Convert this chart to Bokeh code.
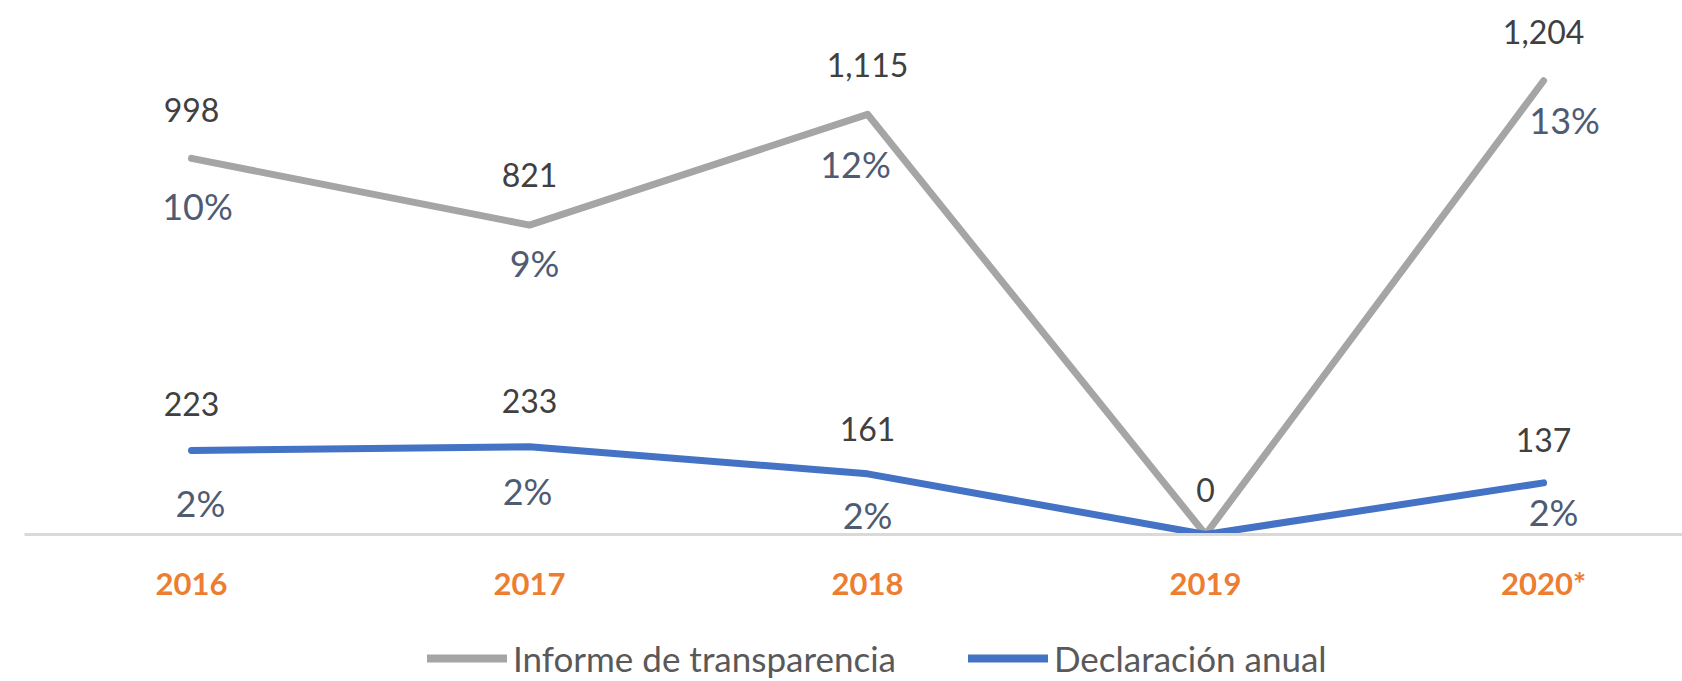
from bokeh.plotting import figure
from bokeh.layouts import column
from bokeh.models import ColumnDataSource, Range1d, Legend, LegendItem, FixedTicker
from bokeh.core.properties import value
from bokeh.embed import file_html
from bokeh.resources import INLINE

# ---- data ----
years = ["2016", "2017", "2018", "2019", "2020*"]
informe = [998, 821, 1115, 0, 1204]
declaracion = [223, 233, 161, 0, 137]
informe_pct = ["10%", "9%", "12%", None, "13%"]
declaracion_pct = ["2%", "2%", "2%", None, "2%"]
series_names = ["Informe de transparencia", "Declaración anual"]

# ---- styles ----
GRAY = "#A5A5A5"
BLUE = "#4472C4"
ORANGE = "#ED7D31"
VAL_COLOR = "#404040"
PCT_COLOR = "#4E5B73"
FONT = "Lato"

# per-label nudges (screen px), like manually moved Excel data labels
inf_val_dy = [-48, -50, -49, -45, -49]
dec_val_dy = [-46, -46, -45, -45, -43]
inf_pct_dx = [6, 5, -12, 0, 21]
inf_pct_dy = [48, 38, 50, 0, 39]
dec_pct_dx = [9, -2, 0, 0, 10]
dec_pct_dy = [53, 44, 41, 0, 29]

xs = list(range(len(years)))

p = figure(width=1682, height=630, output_backend="svg", toolbar_location=None,
           x_range=Range1d(-0.494, 4.411), y_range=Range1d(0, 1417),
           min_border_left=24, min_border_right=0, min_border_top=0,
           min_border_bottom=96)
p.outline_line_color = None
p.grid.grid_line_color = None
p.yaxis.visible = False
p.background_fill_color = "white"
p.border_fill_color = "white"

ax = p.xaxis[0]
ax.ticker = FixedTicker(ticks=xs)
ax.major_label_overrides = {i: y for i, y in enumerate(years)}
ax.axis_line_color = "#D9D9D9"
ax.axis_line_width = 3
ax.major_tick_line_color = None
ax.minor_tick_line_color = None
ax.major_label_text_color = ORANGE
ax.major_label_text_font = FONT
ax.major_label_text_font_style = "bold"
ax.major_label_text_font_size = "31px"
ax.major_label_standoff = 23

p.line(xs, informe, line_color=GRAY, line_width=7, line_cap="round", line_join="round")
p.line(xs, declaracion, line_color=BLUE, line_width=7, line_cap="round", line_join="round")

# value labels
def fmt(v):
    return f"{v:,}"

src_iv = ColumnDataSource(dict(x=xs, y=informe, t=[fmt(v) for v in informe], dy=inf_val_dy))
p.text(x="x", y="y", text="t", y_offset="dy", source=src_iv, text_align="center",
       text_baseline="middle", text_color=VAL_COLOR, text_font=value(FONT), text_font_size="32px")

idx = [i for i, v in enumerate(declaracion) if v > 0]
src_dv = ColumnDataSource(dict(x=[xs[i] for i in idx], y=[declaracion[i] for i in idx],
                               t=[fmt(declaracion[i]) for i in idx], dy=[dec_val_dy[i] for i in idx]))
p.text(x="x", y="y", text="t", y_offset="dy", source=src_dv, text_align="center",
       text_baseline="middle", text_color=VAL_COLOR, text_font=value(FONT), text_font_size="32px")

# percentage labels
for vals, pcts, dxs, dys in [(informe, informe_pct, inf_pct_dx, inf_pct_dy),
                             (declaracion, declaracion_pct, dec_pct_dx, dec_pct_dy)]:
    ii = [i for i, t in enumerate(pcts) if t is not None]
    src = ColumnDataSource(dict(x=[xs[i] for i in ii], y=[vals[i] for i in ii], t=[pcts[i] for i in ii],
                                dx=[dxs[i] for i in ii], dy=[dys[i] for i in ii]))
    p.text(x="x", y="y", text="t", x_offset="dx", y_offset="dy", source=src, text_align="center",
           text_baseline="middle", text_color=PCT_COLOR, text_font=value(FONT), text_font_size="36px")

# legend strip (legend-only renderers kept outside the visible range)
p2 = figure(width=1682, height=51, output_backend="svg", toolbar_location=None,
            x_range=Range1d(0, 1), y_range=Range1d(0, 1),
            min_border_left=0, min_border_right=0, min_border_top=0, min_border_bottom=0)
p2.axis.visible = False
p2.grid.grid_line_color = None
p2.outline_line_color = None
l1 = p2.line([-10, -9], [-10, -10], line_color=GRAY, line_width=8, line_cap="round")
l2 = p2.line([-10, -9], [-10, -10], line_color=BLUE, line_width=8, line_cap="round")

legend = Legend(items=[LegendItem(label=series_names[0], renderers=[l1]),
                       LegendItem(label=series_names[1], renderers=[l2])],
                orientation="horizontal", location=(403, 2),
                label_text_font=FONT, label_text_font_size="35px", label_text_color="#595959",
                glyph_width=80, glyph_height=30, label_height=30, label_standoff=6, spacing=72,
                padding=0, margin=0, border_line_color=None, background_fill_alpha=0)
p2.add_layout(legend, "center")

layout = column(p, p2, spacing=0)
open("out.html", "w").write(file_html(layout, INLINE))
